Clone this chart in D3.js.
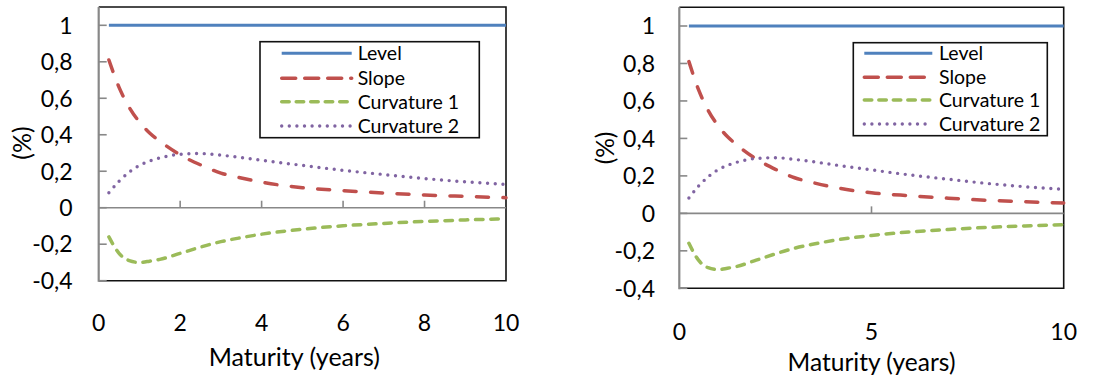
<!DOCTYPE html>
<html><head><meta charset="utf-8">
<script src="https://cdn.jsdelivr.net/npm/d3@7/dist/d3.min.js"></script>
<style>
html,body{margin:0;padding:0;background:#fff;}
svg{display:block;font-family:Lato,"Open Sans",sans-serif;}
</style></head>
<body><svg id="chart" width="1096" height="380"></svg>
<script>
// ---- data ----
const maturities = [0.25, 0.5, 0.75, 1, 1.25, 1.5, 2, 2.5, 3, 3.5, 4, 5, 6, 7, 8, 9, 10];
const level      = [1, 1, 1, 1, 1, 1, 1, 1, 1, 1, 1, 1, 1, 1, 1, 1, 1];
const slope      = [0.81, 0.66, 0.55, 0.47, 0.41, 0.365, 0.29, 0.235, 0.19, 0.163, 0.14, 0.11, 0.094, 0.081, 0.07, 0.062, 0.055];
const curvature1 = [-0.16, -0.25, -0.29, -0.30, -0.293, -0.283, -0.25, -0.216, -0.186, -0.164, -0.145, -0.118, -0.099, -0.086, -0.075, -0.067, -0.06];
const curvature2 = [0.082, 0.145, 0.195, 0.232, 0.256, 0.273, 0.293, 0.297, 0.288, 0.275, 0.26, 0.232, 0.205, 0.182, 0.16, 0.142, 0.128];
const seriesNames = ["Level", "Slope", "Curvature 1", "Curvature 2"];
const yTicks = [-0.4, -0.2, 0, 0.2, 0.4, 0.6, 0.8, 1];
const xTicksLeft = [0, 2, 4, 6, 8, 10];
const xTicksRight = [0, 5, 10];
const xTitle = "Maturity (years)";
const yTitle = "(%)";

const seriesValues = [level, slope, curvature1, curvature2];
const styles = [
  {color: "#4F81BD", dash: null, width: 3, cap: "butt"},
  {color: "#C0504D", dash: "12,14.5", width: 3.5, cap: "round"},
  {color: "#9BBB59", dash: "7.5,7.8", width: 3.5, cap: "round"},
  {color: "#8064A2", dash: "0,7.7", width: 3.4, cap: "round"}
];
const legendDash = [null, "14,9", "7.5,7", "0,7.6"];

const svg = d3.select("#chart");
const fmt = v => (Math.abs(v) < 1e-9 ? "0" : String(+v.toFixed(2)).replace(".", ","));

function panel(cfg) {
  const x = d3.scaleLinear().domain([0, 10]).range([cfg.x0, cfg.x1]);
  const y = d3.scaleLinear().domain([-0.4, 1]).range([cfg.yBottom, cfg.yOne]);
  const yTop = y(1.1);
  const g = svg.append("g");

  // plot border (top/right/bottom)
  g.append("path")
    .attr("d", `M${cfg.x0},${yTop}H${cfg.x1}V${cfg.yBottom}H${cfg.x0}`)
    .attr("fill", "none").attr("stroke", "#111").attr("stroke-width", 1.6);

  // zero line
  g.append("line").attr("x1", cfg.x0).attr("x2", cfg.x1)
    .attr("y1", y(0)).attr("y2", y(0))
    .attr("stroke", "#888").attr("stroke-width", 1.6);
  // x ticks on zero line, pointing up
  g.selectAll(".xt").data(cfg.xTicks.filter(d => d > 0 && d < 10)).enter().append("line")
    .attr("x1", d => x(d)).attr("x2", d => x(d))
    .attr("y1", y(0)).attr("y2", y(0) - 7)
    .attr("stroke", "#888").attr("stroke-width", 1.6);

  // left axis
  g.append("line").attr("x1", cfg.x0).attr("x2", cfg.x0)
    .attr("y1", yTop).attr("y2", cfg.yBottom + 1)
    .attr("stroke", "#888").attr("stroke-width", 2.2);
  g.selectAll(".yt").data(yTicks).enter().append("line")
    .attr("x1", cfg.x0).attr("x2", cfg.x0 + 8)
    .attr("y1", d => y(d)).attr("y2", d => y(d))
    .attr("stroke", "#888").attr("stroke-width", 1.6);

  // y tick labels
  g.selectAll(".yl").data(yTicks).enter().append("text")
    .attr("x", cfg.x0 - cfg.yLabelGap).attr("y", d => y(d))
    .attr("dy", "0.36em").attr("text-anchor", "end")
    .attr("font-size", cfg.tickSize).attr("fill", "#000")
    .text(fmt);

  // x tick labels
  g.selectAll(".xl").data(cfg.xTicks).enter().append("text")
    .attr("x", d => x(d)).attr("y", cfg.xLabelY)
    .attr("dy", "0.36em").attr("text-anchor", "middle")
    .attr("font-size", cfg.tickSize).attr("fill", "#000")
    .text(d => d);

  // axis titles
  g.append("text").attr("x", (cfg.x0 + cfg.x1) / 2 + cfg.xTitleShift).attr("y", cfg.xTitleY)
    .attr("dy", "0.36em").attr("text-anchor", "middle")
    .attr("font-size", cfg.titleSize).attr("fill", "#000").text(xTitle);
  g.append("text").attr("transform", `translate(${cfg.yTitleX},${cfg.yTitleY}) rotate(-90)`)
    .attr("dy", "0.36em").attr("text-anchor", "middle")
    .attr("font-size", cfg.titleSize).attr("fill", "#000").text(yTitle);

  // series
  const line = d3.line().x((d, i) => x(maturities[i])).y(d => y(d)).curve(d3.curveMonotoneX);
  seriesValues.forEach((vals, k) => {
    const s = styles[k];
    g.append("path").attr("d", line(vals))
      .attr("fill", "none").attr("stroke", s.color)
      .attr("stroke-width", s.width).attr("stroke-linecap", s.cap)
      .attr("stroke-dasharray", s.dash);
  });

  // legend
  const L = cfg.legend;
  g.append("rect").attr("x", L.x0).attr("y", L.y0)
    .attr("width", L.x1 - L.x0).attr("height", L.y1 - L.y0)
    .attr("fill", "#fff").attr("stroke", "#111").attr("stroke-width", 1.6);
  seriesNames.forEach((name, k) => {
    const s = styles[k];
    const ry = L.rows[k];
    g.append("line").attr("x1", L.lx0).attr("x2", L.lx1).attr("y1", ry).attr("y2", ry)
      .attr("stroke", s.color).attr("stroke-width", s.width)
      .attr("stroke-linecap", s.cap).attr("stroke-dasharray", legendDash[k]);
    g.append("text").attr("x", L.tx).attr("y", ry).attr("dy", "0.36em")
      .attr("font-size", cfg.legendSize).attr("fill", "#000").text(name);
  });
}

panel({
  x0: 98.7, x1: 506, yOne: 25.3, yBottom: 280.7,
  xTicks: xTicksLeft, yLabelGap: 26, xLabelY: 323, xTitleY: 357, xTitleShift: -8,
  yTitleX: 22, yTitleY: 143,
  tickSize: 23, titleSize: 25, legendSize: 19.5,
  legend: {x0: 260, y0: 41.7, x1: 479.3, y1: 137.7, lx0: 281.7, lx1: 351.7, tx: 357.7,
           rows: [53.3, 78.3, 101.7, 126]}
});
panel({
  x0: 679.3, x1: 1063.7, yOne: 26, yBottom: 288.3,
  xTicks: xTicksRight, yLabelGap: 24.3, xLabelY: 331.7, xTitleY: 361.7, xTitleShift: 0,
  yTitleX: 605, yTitleY: 148,
  tickSize: 23, titleSize: 24.5, legendSize: 19.5,
  legend: {x0: 853.3, y0: 42.7, x1: 1047.3, y1: 135.7, lx0: 864.3, lx1: 932.3, tx: 939,
           rows: [53.3, 77.3, 100, 124]}
});
</script></body></html>
